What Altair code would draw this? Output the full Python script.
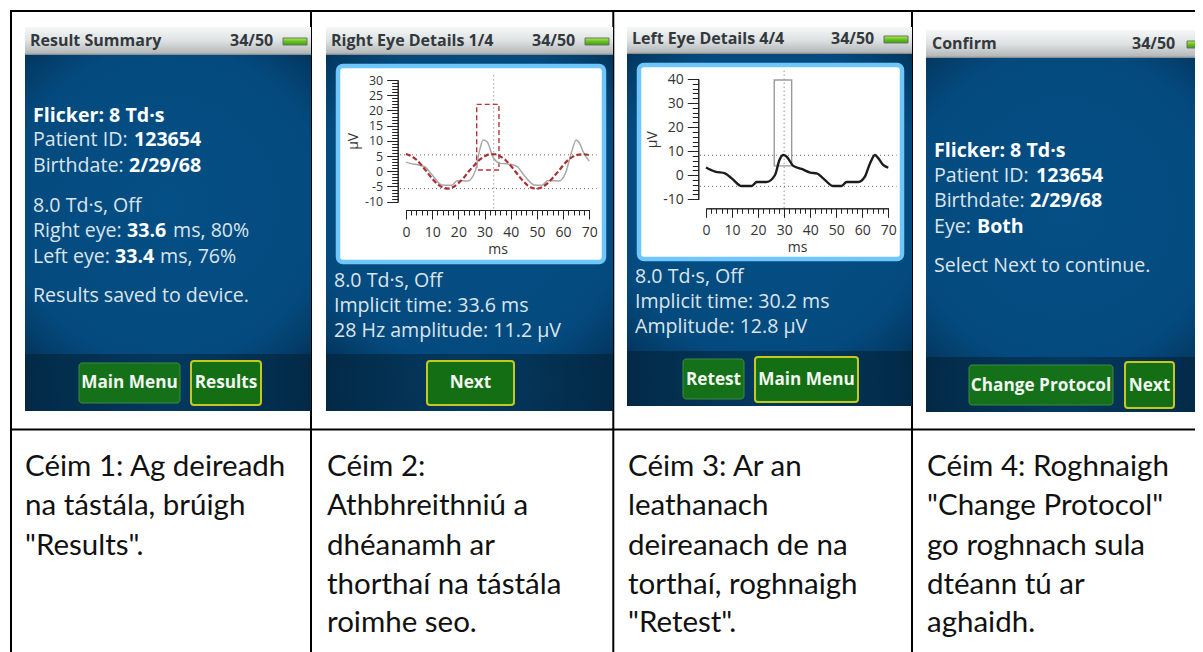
import altair as alt
import pandas as pd

W, H = 1187, 644

# ---------- chart values ----------
ms_ticks_major = list(range(0, 71, 10))
ms_ticks_minor = list(range(0, 71, 2))

r_y_major = list(range(-10, 31, 5))
r_y_minor = list(range(-10, 31, 1))
r_t_avg = [0, 2, 4, 6, 8, 10, 12, 14, 16, 18, 20, 22, 24, 26, 28, 30, 32, 34, 36, 38, 40, 42, 44, 46, 48, 50, 52, 54, 56, 58, 60, 62, 64, 66, 68, 70]
r_v_avg = [5.7, 5.0, 3.8, 1.9, -0.2, -2.4, -4.2, -5.3, -5.7, -5.2, -3.9, -2.2, 0.0, 1.9, 3.7, 4.9, 5.6, 5.6, 4.9, 3.7, 1.8, -0.3, -2.5, -4.3, -5.4, -5.7, -5.2, -4.0, -2.2, -0.2, 1.9, 3.8, 4.9, 5.5, 5.6, 5.3]
r_t_raw = [0, 1.5, 3.5, 7.3, 10, 13.7, 17.5, 19.5, 23.5, 26.5, 28, 29.5, 31, 33.5, 36, 40, 42.5, 45, 49, 52, 54, 58.5, 61, 63, 65, 66.2, 68, 70]
r_v_raw = [3.0, 2.6, 2.3, 1.4, -1.2, -4.5, -4.6, -3.1, -3.2, 0.2, 6.5, 10.3, 9.6, 4.2, 2.6, 2.3, 1.5, -1.2, -4.5, -4.6, -3.1, -3.2, -0.4, 5.6, 10.3, 9.3, 5.8, 3.4]
r_h_cursors = [5.4, -5.7]
r_v_cursor = 33.5
r_box = (27.0, 35.5, 0.4, 22.0)
r_extent_x = (-2.3, 72.8)
r_extent_y = (-12.2, 32.4)

l_y_major = list(range(-10, 41, 10))
l_y_minor = list(range(-10, 41, 2))
l_t = [0, 3.5, 7.3, 9.9, 13.7, 17.5, 19.5, 23.3, 26.5, 28.2, 29.7, 31, 33.5, 36.7, 40, 42.5, 45, 48.9, 52, 54, 58.5, 61, 63, 64.9, 66.2, 68, 70]
l_v = [3.2, 1.5, 0.8, -1.3, -4.5, -4.5, -2.8, -2.8, 0.1, 6.3, 8.4, 7.7, 3.9, 2.6, 1.1, 0.8, -1.3, -4.5, -4.5, -2.8, -2.8, -0.6, 5.0, 8.4, 7.0, 4.3, 3.2]
l_h_cursors = [8.3, -4.6]
l_v_cursor = 30.0
l_box = (26.2, 32.9, 3.9, 39.6)
l_extent_x = (-2.3, 73.2)
l_extent_y = (-13.5, 43.5)

# ---------- text content ----------
captions = [
    ["Céim 1: Ag deireadh", "na tástála, brúigh", '"Results".'],
    ["Céim 2:", "Athbhreithniú a", "dhéanamh ar", "thorthaí na tástála", "roimhe seo."],
    ["Céim 3: Ar an", "leathanach", "deireanach de na", "torthaí, roghnaigh", '"Retest".'],
    ["Céim 4: Roghnaigh", '"Change Protocol"', "go roghnach sula", "dtéann tú ar", "aghaidh."],
]
headers = ["Result Summary", "Right Eye Details 1/4", "Left Eye Details 4/4", "Confirm"]
counter = "34/50"

# ---------- layout (reference pixels) ----------
screens = [(25, 311, 27, 55, 354, 411), (326, 613, 27, 55, 354, 411),
           (627, 912, 27, 54, 351, 406), (926, 1203, 30, 58, 357, 412)]
panels = [(336, 606, 64, 264), (637, 904, 63, 261)]
caption_x = [25, 327, 628, 927]
caption_y = [476, 515, 555, 594, 632]
header_pos = [(30, 46), (331, 46), (632, 44), (932, 49)]
counter_pos = [(230, 46), (532, 46), (831, 44), (1132, 49)]
battery = [(283, 307, 38, 45), (585, 609, 38, 45), (884, 908, 36, 43), (1187, 1205, 41, 48)]
buttons = [  # label, x1, x2, y1, y2, active, baseline
    ("Main Menu", 79, 180, 363, 403, False, 388),
    ("Results", 191, 261, 361, 405, True, 388),
    ("Next", 427, 514, 361, 405, True, 388),
    ("Retest", 683, 744, 359, 399, False, 385),
    ("Main Menu", 755, 858, 357, 402, True, 385),
    ("Change Protocol", 969, 1113, 365, 405, False, 391),
    ("Next", 1125, 1174, 362, 408, True, 391),
]
REG, BLD = "#dbe5ec", "#ffffff"
body_runs = [  # text, x, baseline, bold
    ("Flicker: 8 Td·s", 33, 122, True), ("Patient ID: ", 33, 146, False), ("123654", 134, 146, True),
    ("Birthdate: ", 33, 172, False), ("2/29/68", 129, 172, True), ("8.0 Td·s, Off", 33, 212, False),
    ("Right eye: ", 33, 237, False), ("33.6", 127, 237, True), ("ms, 80%", 173, 237, False),
    ("Left eye: ", 33, 263, False), ("33.4", 115, 263, True), ("ms, 76%", 160, 263, False),
    ("Results saved to device.", 33, 302, False),
    ("8.0 Td·s, Off", 334, 287, False), ("Implicit time: 33.6 ms", 334, 312, False), ("28 Hz amplitude: 11.2 µV", 334, 337, False),
    ("8.0 Td·s, Off", 635, 283, False), ("Implicit time: 30.2 ms", 635, 308, False), ("Amplitude: 12.8 µV", 635, 333, False),
    ("Flicker: 8 Td·s", 934, 157, True), ("Patient ID: ", 934, 182, False), ("123654", 1036, 182, True),
    ("Birthdate: ", 934, 207, False), ("2/29/68", 1030, 207, True), ("Eye: ", 934, 233, False), ("Both", 977, 233, True),
    ("Select Next to continue.", 934, 272, False),
]

# ---------- helpers ----------
X = alt.Scale(domain=[8, 8 + W], range=[0, W], nice=False, zero=False)
Y = alt.Scale(domain=[8, 8 + H], range=[0, H], nice=False, zero=False)


def rects(rows, **mark):
    d = pd.DataFrame(rows, columns=["x1", "x2", "y1", "y2"])
    return alt.Chart(d).mark_rect(**mark).encode(
        x=alt.X("x1:Q", scale=X, axis=None), x2="x2:Q",
        y=alt.Y("y1:Q", scale=Y, axis=None), y2="y2:Q")


def texts(rows, font, weight, size, color, align="left"):
    d = pd.DataFrame(rows, columns=["t", "x", "y"])
    return alt.Chart(d).mark_text(font=font, fontWeight=weight, fontSize=size, color=color,
                                  align=align, baseline="alphabetic").encode(
        x=alt.X("x:Q", scale=X, axis=None), y=alt.Y("y:Q", scale=Y, axis=None), text="t:N")


def grad(stops, radial=False):
    s = [{"offset": o, "color": c} for o, c in stops]
    if radial:
        return {"gradient": "radial", "x1": 0.5, "y1": 0.5, "x2": 0.5, "y2": 0.5, "r1": 0, "r2": 0.78, "stops": s}
    return {"gradient": "linear", "x1": 0, "y1": 0, "x2": 0, "y2": 1, "stops": s}


layers = []

# table borders
vlines = pd.DataFrame({"x": [11, 311, 613.3, 912], "y": [10] * 4, "y2": [652] * 4})
hlines = pd.DataFrame({"x": [10, 10], "x2": [1203, 1203], "y": [11, 429.5]})
layers.append(alt.Chart(vlines).mark_rule(color="#000", strokeWidth=2).encode(
    x=alt.X("x:Q", scale=X, axis=None), y=alt.Y("y:Q", scale=Y, axis=None), y2="y2:Q"))
layers.append(alt.Chart(hlines).mark_rule(color="#000", strokeWidth=2).encode(
    x=alt.X("x:Q", scale=X, axis=None), x2="x2:Q", y=alt.Y("y:Q", scale=Y, axis=None)))

# screens
body_grad = grad([(0, "#044f85"), (0.68, "#044a7e"), (0.85, "#033a64"), (1, "#011f36")], True)
foot_grad = grad([(0, "#043a60"), (0.6, "#032b49"), (0.82, "#021c30"), (1, "#010d18")], True)
head_grad = grad([(0, "#f6f8f8"), (0.5, "#dde1e2"), (0.93, "#b4b8b9"), (1, "#7d8285")])
for x1, x2, y0, yh, yf, y1 in screens:
    layers.append(rects([(x1, x2, yh, yf)], fill=body_grad))
    layers.append(rects([(x1, x2, yf, y1)], fill=foot_grad))
    layers.append(rects([(x1, x2, y0, yh)], fill=head_grad))

# chart panels
for x1, x2, y1, y2 in panels:
    layers.append(rects([(x1 + 2, x2 - 2, y1 + 2, y2 - 2)], fill="#ffffff", stroke="#6fc6fb", strokeWidth=4.5, cornerRadius=5))

# battery
bat_grad = grad([(0, "#b6ee4a"), (0.5, "#66c21e"), (1, "#3f9a10")])
layers.append(rects(battery, fill=bat_grad, stroke="#6b7072", strokeWidth=1))

# buttons
layers.append(rects([b[1:5] for b in buttons if not b[5]], fill="#15701a", stroke="#3c8a3e", strokeWidth=1, cornerRadius=3))
layers.append(rects([b[1:5] for b in buttons if b[5]], fill="#146f14", stroke="#c6c81e", strokeWidth=2, cornerRadius=3))

# text
layers.append(texts([(h, *p) for h, p in zip(headers, header_pos)], "Open Sans", "bold", 16, "#33393d"))
layers.append(texts([(counter, *p) for p in counter_pos], "Open Sans", "bold", 16, "#33393d"))
layers.append(texts([(t, x, y) for t, x, y, b in body_runs if not b], "Open Sans", "normal", 19.6, REG))
layers.append(texts([(t, x, y) for t, x, y, b in body_runs if b], "Open Sans", "bold", 19.6, BLD))
layers.append(texts([(b[0], (b[1] + b[2]) / 2, b[6]) for b in buttons], "Open Sans", "bold", 17.2, "#f2f6f0", "center"))
cap_rows = [(line, caption_x[i], caption_y[j]) for i, lines in enumerate(captions) for j, line in enumerate(lines)]
layers.append(texts(cap_rows, "Lato", "normal", 29.5, "#111111"))


# ---------- the two real plots ----------
def plot(x_range, y_range, x_axis_pos, y_axis_pos, y_dom, y_major, y_minor, title_x, y_label_size, curves, h_cur, v_cur, ext_x, ext_y, box, box_style):
    xs = alt.Scale(domain=[0, 70], range=x_range, nice=False, zero=False)
    ys = alt.Scale(domain=y_dom, range=y_range, nice=False, zero=False)
    off_x = -(H - (x_axis_pos - 8))
    off_y = -(y_axis_pos - 8)
    common = dict(orient="bottom", grid=False, offset=off_x, zindex=1, domainColor="#222", tickColor="#222", labelOverlap=False, labelFlush=False)
    out = []
    d0 = pd.DataFrame({"x": [0.0, 70.0], "y": [y_dom[0], y_dom[1]]})
    # axes carrying major and minor ticks
    out.append(alt.Chart(d0).mark_point(opacity=0).encode(
        x=alt.X("x:Q", scale=xs, title="ms", axis=alt.Axis(values=ms_ticks_major, tickSize=9, labelPadding=6.5,
                labelFont="Open Sans", labelFontSize=14, labelColor="#333", titleFont="Open Sans", titleFontSize=14,
                titleFontWeight="normal", titleColor="#333", titlePadding=3, labelExpr="''+datum.value", **common)),
        y=alt.Y("y:Q", scale=ys, title="µV", axis=alt.Axis(values=y_major, tickSize=11, labelPadding=4, orient="left", grid=False,
                offset=off_y, zindex=1, domainColor="#222", tickColor="#222", labelFont="Open Sans", labelFontSize=y_label_size, labelColor="#333",
                titleFont="Open Sans", titleFontSize=14, titleFontWeight="normal", titleColor="#333", titleX=title_x,
                labelOverlap=False, labelFlush=False, labelExpr="''+datum.value"))))
    out.append(alt.Chart(d0).mark_point(opacity=0).encode(
        x=alt.X("x:Q", scale=xs, title=None, axis=alt.Axis(values=ms_ticks_minor, tickSize=5, labels=False, **common)),
        y=alt.Y("y:Q", scale=ys, title=None, axis=alt.Axis(values=y_minor, tickSize=6, labels=False, orient="left", grid=False,
                offset=off_y, zindex=1, domainColor="#222", tickColor="#222"))))
    # cursors
    dh = pd.DataFrame({"x": [ext_x[0]] * 2, "x2": [ext_x[1]] * 2, "y": h_cur})
    out.append(alt.Chart(dh).mark_rule(color="#666", strokeWidth=1, strokeDash=[1, 3]).encode(
        x=alt.X("x:Q", scale=xs, axis=None), x2="x2:Q", y=alt.Y("y:Q", scale=ys, axis=None)))
    dv = pd.DataFrame({"x": [v_cur], "y": [ext_y[0]], "y2": [ext_y[1]]})
    out.append(alt.Chart(dv).mark_rule(color="#666", strokeWidth=1, strokeDash=[1, 3]).encode(
        x=alt.X("x:Q", scale=xs, axis=None), y=alt.Y("y:Q", scale=ys, axis=None), y2="y2:Q"))
    # box
    db = pd.DataFrame({"x": [box[0]], "x2": [box[1]], "y": [box[2]], "y2": [box[3]]})
    out.append(alt.Chart(db).mark_rect(fill="transparent", **box_style).encode(
        x=alt.X("x:Q", scale=xs, axis=None), x2="x2:Q", y=alt.Y("y:Q", scale=ys, axis=None), y2="y2:Q"))
    # curves
    for t, v, style in curves:
        dc = pd.DataFrame({"t": t, "v": v})
        out.append(alt.Chart(dc).mark_line(interpolate="monotone", **style).encode(
            x=alt.X("t:Q", scale=xs, axis=None), y=alt.Y("v:Q", scale=ys, axis=None)))
    return out


layers += plot([398, 581.3], [193.7, 72], 210, 397.7, [-10, 30], r_y_major, r_y_minor, -37, 12.4,
               [(r_t_raw, r_v_raw, dict(color="#a9a9a9", strokeWidth=1.5)),
                (r_t_avg, r_v_avg, dict(color="#ab2f33", strokeWidth=2.2, strokeDash=[5, 2.5]))],
               r_h_cursors, r_v_cursor, r_extent_x, r_extent_y, r_box,
               dict(stroke="#b5393c", strokeWidth=1.4, strokeDash=[5, 3]))
layers += plot([698, 880.3], [191.3, 71], 208.3, 698.3, [-10, 40], l_y_major, l_y_minor, -38.5, 14,
               [(l_t, l_v, dict(color="#1c1c1c", strokeWidth=2.4))],
               l_h_cursors, l_v_cursor, l_extent_x, l_extent_y, l_box,
               dict(stroke="#9b9b9b", strokeWidth=1.4))

chart = alt.layer(*layers).resolve_scale(x="independent", y="independent").properties(
    width=W, height=H, padding=0, autosize=alt.AutoSizeParams(type="none"), background="#ffffff"
).configure_view(strokeWidth=0)

chart.save("out.html", embed_options={"renderer": "svg", "actions": False})
